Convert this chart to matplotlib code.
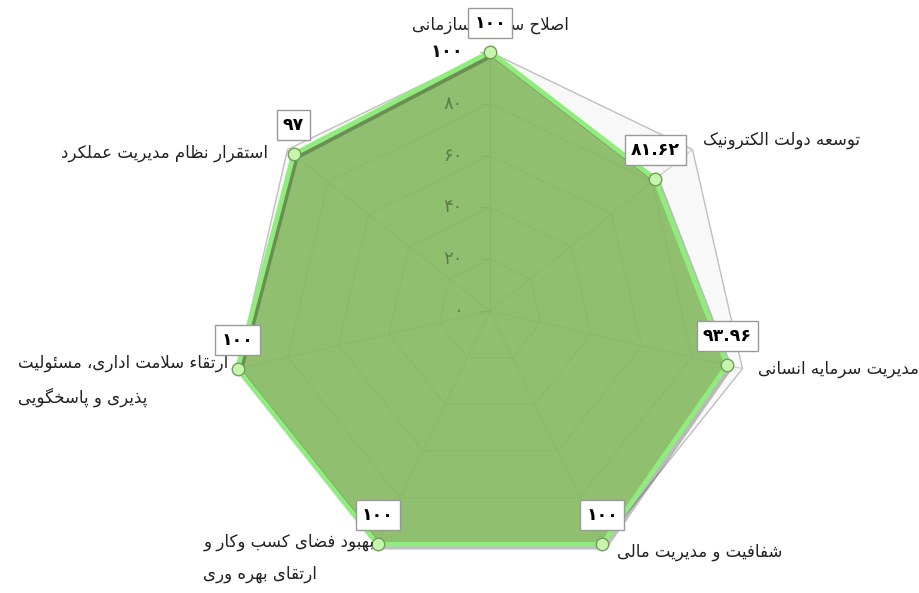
import numpy as np
import matplotlib
matplotlib.use("Agg")
import matplotlib.pyplot as plt
import matplotlib.patheffects as pe

# data
categories = [
    "اصلاح ساختار سازمانی",
    "توسعه دولت الکترونیک",
    "مدیریت سرمایه انسانی",
    "شفافیت و مدیریت مالی",
    "بهبود فضای کسب وکار و\nارتقای بهره وری",
    "ارتقاء سلامت اداری، مسئولیت\nپذیری و پاسخگویی",
    "استقرار نظام مدیریت عملکرد",
]
values = [100, 81.62, 93.96, 100, 100, 100, 97]
value_labels = ["100", "81.62", "93.96", "100", "100", "100", "97"]
rticks = [0, 20, 40, 60, 80, 100]

# simple Persian shaping (matplotlib has no bidi / joining)
FORMS = {
    'ء': ('\uFE80', None, None, None),
    'ئ': ('\uFE89', '\uFE8A', '\uFE8B', '\uFE8C'),
    'ا': ('\uFE8D', '\uFE8E', None, None),
    'ب': ('\uFE8F', '\uFE90', '\uFE91', '\uFE92'),
    'ت': ('\uFE95', '\uFE96', '\uFE97', '\uFE98'),
    'ح': ('\uFEA1', '\uFEA2', '\uFEA3', '\uFEA4'),
    'خ': ('\uFEA5', '\uFEA6', '\uFEA7', '\uFEA8'),
    'د': ('\uFEA9', '\uFEAA', None, None),
    'ذ': ('\uFEAB', '\uFEAC', None, None),
    'ر': ('\uFEAD', '\uFEAE', None, None),
    'ز': ('\uFEAF', '\uFEB0', None, None),
    'س': ('\uFEB1', '\uFEB2', '\uFEB3', '\uFEB4'),
    'ش': ('\uFEB5', '\uFEB6', '\uFEB7', '\uFEB8'),
    'ص': ('\uFEB9', '\uFEBA', '\uFEBB', '\uFEBC'),
    'ض': ('\uFEBD', '\uFEBE', '\uFEBF', '\uFEC0'),
    'ط': ('\uFEC1', '\uFEC2', '\uFEC3', '\uFEC4'),
    'ظ': ('\uFEC5', '\uFEC6', '\uFEC7', '\uFEC8'),
    'ع': ('\uFEC9', '\uFECA', '\uFECB', '\uFECC'),
    'ف': ('\uFED1', '\uFED2', '\uFED3', '\uFED4'),
    'ق': ('\uFED5', '\uFED6', '\uFED7', '\uFED8'),
    'ل': ('\uFEDD', '\uFEDE', '\uFEDF', '\uFEE0'),
    'م': ('\uFEE1', '\uFEE2', '\uFEE3', '\uFEE4'),
    'ن': ('\uFEE5', '\uFEE6', '\uFEE7', '\uFEE8'),
    'ه': ('\uFEE9', '\uFEEA', '\uFEEB', '\uFEEC'),
    'و': ('\uFEED', '\uFEEE', None, None),
    'پ': ('\uFB56', '\uFB57', '\uFB58', '\uFB59'),
    'ک': ('\uFB8E', '\uFB8F', '\uFB90', '\uFB91'),
    'گ': ('\uFB92', '\uFB93', '\uFB94', '\uFB95'),
    'ی': ('\uFBFC', '\uFBFD', '\uFBFE', '\uFBFF'),
}


def shape_line(text):
    out = []
    prev = False
    i = 0
    n = len(text)
    while i < n:
        c = text[i]
        if c not in FORMS:
            out.append(c)
            prev = False
            i += 1
            continue
        if c == 'ل' and i + 1 < n and text[i + 1] == 'ا':
            out.append('\uFEFC' if prev else '\uFEFB')
            prev = False
            i += 2
            continue
        f = FORMS[c]
        nxt = text[i + 1] if i + 1 < n else ''
        jp = prev and c != 'ء'
        jn = f[2] is not None and nxt in FORMS and nxt != 'ء'
        if jp and jn:
            g = f[3]
        elif jp:
            g = f[1]
        elif jn:
            g = f[2]
        else:
            g = f[0]
        out.append(g)
        prev = jn
        i += 1
    return ''.join(reversed(out))


def fa(text):
    return '\n'.join(shape_line(t) for t in text.split('\n'))


def fa_num(s):
    return s.translate(str.maketrans('0123456789', '۰۱۲۳۴۵۶۷۸۹'))


plt.rcParams['font.family'] = ['DejaVu Sans']

n = len(categories)
angles = np.arange(n) * 2 * np.pi / n
closed = np.append(angles, angles[0])

fig = plt.figure(figsize=(9.2, 5.93), dpi=100)
ax = fig.add_axes([0.2511, 0.0388, 0.563, 0.8735], projection='polar')
ax.set_theta_offset(np.pi / 2)
ax.set_theta_direction(-1)
ax.set_ylim(0, 100)
ax.grid(False)
ax.set_xticks([])
ax.set_yticks([])
ax.spines['polar'].set_visible(False)
ax.patch.set_alpha(0)

# plot background polygon
ax.fill(closed, [100] * (n + 1), color='#f8f8f8', zorder=0, clip_on=False)

# polygon grid + spokes
for r in rticks[1:]:
    ax.plot(closed, [r] * (n + 1), color='#c0c0c0' if r == 100 else '#d2d2d2',
            lw=1, zorder=1, clip_on=False)
for i, a in enumerate(angles):
    ax.plot([a, a], [0, 100], color='#b8b8b8' if i == 0 else '#d2d2d2', lw=1, zorder=1)

# radial ticks / labels
ax.plot([0] * len(rticks), rticks, ls='none', marker=[(-1, 0), (0, 0)],
        markersize=14, mec='#b8b8b8', mew=1, zorder=1, clip_on=False)
for r in rticks:
    top = r == 100
    ax.annotate(fa_num(str(r)), xy=(0, r), xytext=(-27, 0), textcoords='offset pixels',
                ha='right', va='center', fontsize=13, color='#111111',
                alpha=1 if top else 0.4, fontweight='bold' if top else 'normal',
                zorder=3.5)

# series
vals = np.append(values, values[0])
ax.fill(closed, vals, color='#7fb65a', alpha=0.86, zorder=3, lw=0, clip_on=False)
ax.plot(closed, vals, color='#90ed7d', lw=3.5, zorder=4, clip_on=False,
        path_effects=[pe.SimpleLineShadow(offset=(2, -2), shadow_color='#000000', alpha=0.25),
                      pe.Normal()])
ax.plot(angles, values, ls='none', marker='o', markersize=9, mfc='#c8f5ae',
        mec='#6f9f55', mew=1, zorder=5, clip_on=False)

# value labels
for a, v, lab in zip(angles, values, value_labels):
    ax.annotate(fa_num(lab), xy=(a, v), xytext=(0, 29), textcoords='offset pixels',
                ha='center', va='center', fontsize=12.5, fontweight='bold', color='black',
                bbox=dict(boxstyle='square,pad=0.35', fc='white', ec='#999999', lw=1),
                zorder=7)

# category labels
label_pos = [
    ((0, 27), 'center', 'center'),
    ((11, 10), 'left', 'center'),
    ((16, 0), 'left', 'center'),
    ((15, -8), 'left', 'center'),
    ((-3, -14), 'right', 'center'),
    ((-9, -12), 'right', 'center'),
    ((-20, -3), 'right', 'center'),
]
for a, cat, (off, ha, va) in zip(angles, categories, label_pos):
    ax.annotate(fa(cat), xy=(a, 100), xytext=off, textcoords='offset pixels',
                ha=ha, va=va, fontsize=12, color='#222222', multialignment='left',
                linespacing=2.0, zorder=6)

fig.savefig('out.png', dpi=100)
